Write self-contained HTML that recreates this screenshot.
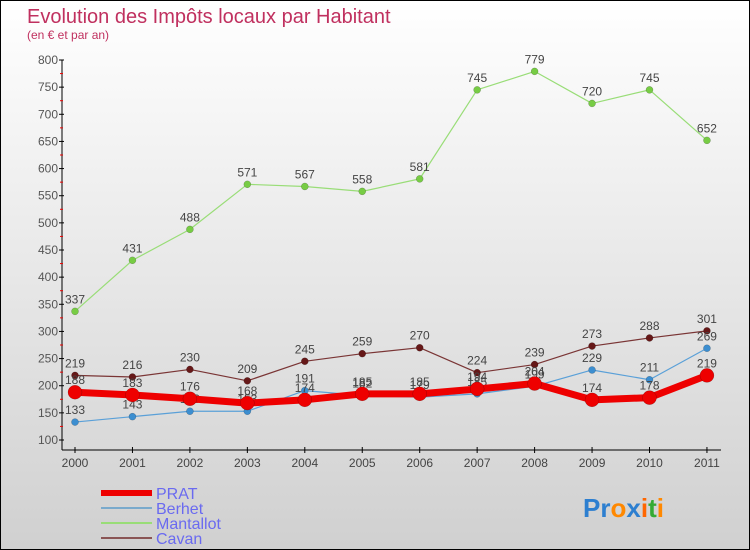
<!DOCTYPE html>
<html><head><meta charset="utf-8"><style>
body{margin:0}
#c{width:748px;height:548px;border:1px solid #000;background:linear-gradient(#fff,#d0d0d0);position:relative;font-family:"Liberation Sans",sans-serif;overflow:hidden}
</style></head><body>
<div id="c">
<svg id="s" width="748" height="548" style="position:absolute;left:0;top:0"></svg>
</div>
<script>
const years=["2000","2001","2002","2003","2004","2005","2006","2007","2008","2009","2010","2011"];
const prat=[188,183,176,168,174,185,185,194,204,174,178,219];
const berhet=[133,143,153,153,191,182,179,185,199,229,211,269];
const mantallot=[337,431,488,571,567,558,581,745,779,720,745,652];
const cavan=[219,216,230,209,245,259,270,224,239,273,288,301];
const yTicks=[100,150,200,250,300,350,400,450,500,550,600,650,700,750,800];
const NS="http://www.w3.org/2000/svg";
const s=document.getElementById('s');
function X(i){return 74+i*57.45;}
function Y(v){return 439-(v-100)*(380/700);}
function el(t,a,p){const e=document.createElementNS(NS,t);for(const k in a)e.setAttribute(k,a[k]);(p||s).appendChild(e);return e;}
function tx(x,y,str,a){const e=el('text',Object.assign({x:x,y:y},a));e.textContent=str;return e;}
let t=tx(26,22,"Evolution des Impôts locaux par Habitant",{'font-size':20,fill:'#c0305f'});

t=tx(26,38,"(en € et par an)",{'font-size':12,fill:'#c0305f'});

let ax=el('line',{x1:61,y1:Y(800),x2:61,y2:449,stroke:'#000'});

yTicks.forEach((v,i)=>{el('line',{x1:58,x2:63,y1:Y(v),y2:Y(v),stroke:'#000'});
 if(i<yTicks.length-1)el('line',{x1:59,x2:62,y1:Y(v+25),y2:Y(v+25),stroke:'#e00'});
 const l=tx(57,Y(v)+4,v,{'font-size':12,fill:'#555','text-anchor':'end'});
 });
ax=el('line',{x1:61,y1:449,x2:720,y2:449,stroke:'#000'});

years.forEach((y,i)=>{el('line',{x1:X(i),x2:X(i),y1:446,y2:452,stroke:'#000'});
 const l=tx(X(i),466,y,{'font-size':12,fill:'#444','text-anchor':'middle'});
 });
function series(d,color,w,r,name,dot){
 const g=el('g',{});
 el('polyline',{points:d.map((v,i)=>X(i)+','+Y(v)).join(' '),fill:'none',stroke:color,'stroke-width':w,'stroke-linejoin':'round'},g);
 d.forEach((v,i)=>{const c=el('circle',{cx:X(i),cy:Y(v),r:r,fill:dot,stroke:'rgba(0,0,0,0.3)','stroke-width':0.5},g);
  
  const l=tx(X(i),Y(v)-8,v,{'font-size':12,fill:'#444','text-anchor':'middle'},g);
  });
}
series(mantallot,'#99dd77',1.2,3.5,'mantallot','#77cc44');
series(cavan,'#7a3535',1.2,3.5,'cavan','#661818');
series(berhet,'#5aa0d8',1.2,3.5,'berhet','#3c8ed0');
series(prat,'#ee0000',7,7,'prat','#ee0000');
const leg=[["PRAT","#ee0000",6],["Berhet","#7aaacc",2],["Mantallot","#99dd77",2],["Cavan","#8a5555",2]];
leg.forEach((d,i)=>{const g=el('g',{});
 const y=492+i*15;el('line',{x1:100,x2:151,y1:y,y2:y,stroke:d[1],'stroke-width':d[2]},g);
 tx(155,y+6,d[0],{'font-size':16,fill:'#6a6af0'},g);});
const logo=el('text',{x:582,y:516,'font-size':26,'font-weight':'bold'});

[["Pr","#2d7fd0"],["o","#ff8800"],["x","#2d7fd0"],["i","#ff6600"],["t","#33aa33"],["i","#ff8800"]].forEach(p=>{const sp=el('tspan',{fill:p[1]},logo);sp.textContent=p[0];});
</script>
</body></html>
